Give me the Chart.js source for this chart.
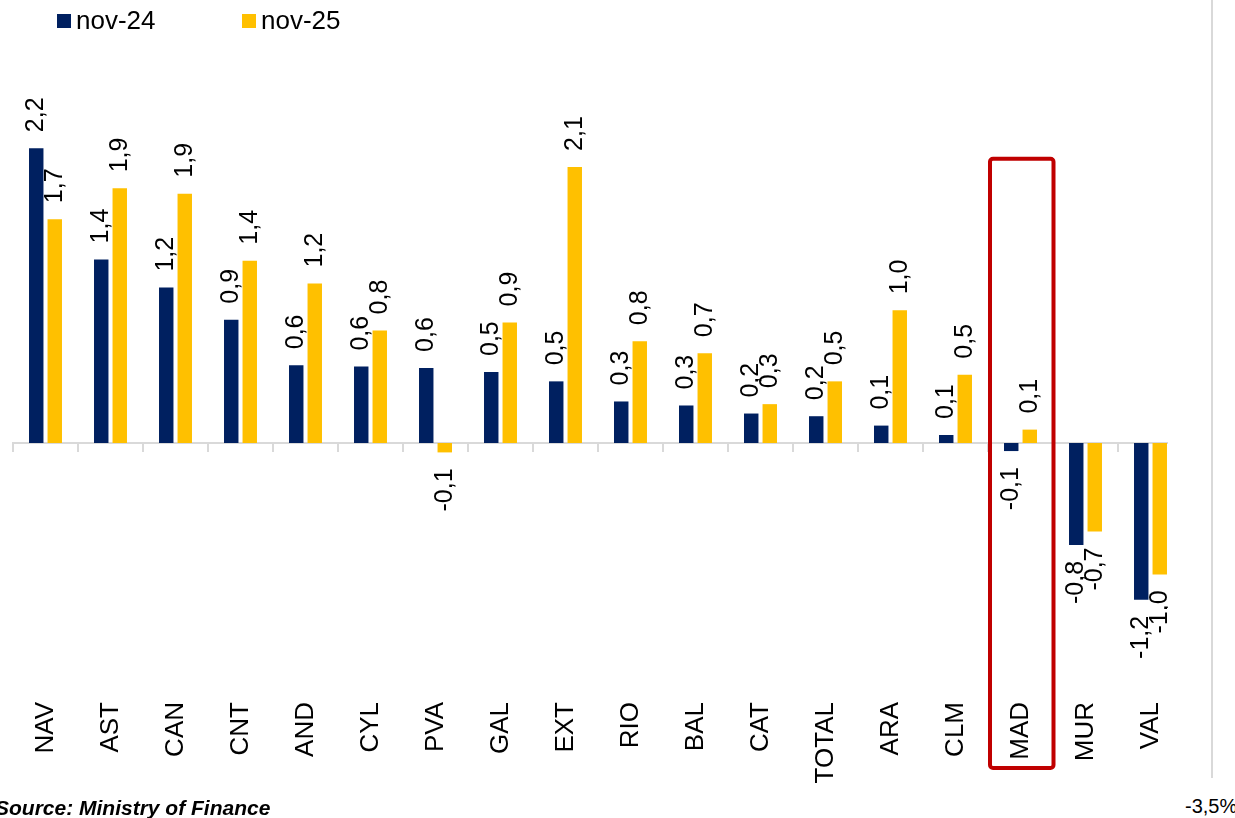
<!DOCTYPE html>
<html>
<head>
<meta charset="utf-8">
<script src="https://cdn.jsdelivr.net/npm/chart.js@4/dist/chart.umd.min.js"></script>
<style>
  body { margin: 0; background: #fff; font-family: "Liberation Sans", Arial, sans-serif; }
  #page { position: relative; width: 1235px; height: 818px; overflow: hidden; }
  #plot { position: absolute; left: 0; top: 0; width: 1168px; height: 800px; overflow: hidden; }
  #plot canvas { position: absolute; left: 0; top: 0; }
  .leg { position: absolute; top: 7px; font-size: 26px; line-height: 26px; color: #000; white-space: nowrap; }
  .leg i { position: absolute; left: 0; top: 7px; width: 14px; height: 14px; }
  .leg span { margin-left: 19px; }
  #source { position: absolute; left: -5px; top: 797px; font-size: 21px; line-height: 21px; font-weight: bold; font-style: italic; white-space: nowrap; }
  #other { position: absolute; left: 1185px; top: 796px; font-size: 20px; line-height: 20px; white-space: nowrap; }
  #edge { position: absolute; left: 1211px; top: 0; width: 2px; height: 778px; background: #d9d9d9; }
</style>
</head>
<body>
<div id="page">
  <div id="plot"><canvas id="grafik" width="1200" height="800"></canvas></div>
  <div id="legend"></div>
  <div id="edge"></div>
  <div id="source">Source: Ministry of Finance</div>
  <div id="other">-3,5%</div>
</div>
<script>
const categories = ['NAV', 'AST', 'CAN', 'CNT', 'AND', 'CYL', 'PVA', 'GAL', 'EXT', 'RIO', 'BAL', 'CAT', 'TOTAL', 'ARA', 'CLM', 'MAD', 'MUR', 'VAL'];
const nov24 = [2.2, 1.37, 1.16, 0.92, 0.58, 0.57, 0.56, 0.53, 0.46, 0.31, 0.28, 0.22, 0.2, 0.13, 0.06, -0.06, -0.76, -1.17];
const nov25 = [1.67, 1.9, 1.86, 1.36, 1.19, 0.84, -0.07, 0.9, 2.06, 0.76, 0.67, 0.29, 0.46, 0.99, 0.51, 0.1, -0.66, -0.98];
const seriesNames = ['nov-24', 'nov-25'];
const colors = ['#002060', '#ffc000'];
const highlight = 'MAD';

const font = '"Liberation Sans", Arial, sans-serif';

// rotated value labels above / below each bar
const valueLabels = {
    id: 'valueLabels',
    afterDatasetsDraw(chart) {
        const ctx = chart.ctx;
        ctx.save();
        ctx.font = '25px ' + font;
        ctx.fillStyle = '#000';
        ctx.textBaseline = 'middle';
        chart.data.datasets.forEach((ds, i) => {
            chart.getDatasetMeta(i).data.forEach((bar, j) => {
                const v = ds.data[j];
                ctx.save();
                ctx.translate(bar.x, v >= 0 ? bar.y - 16 : bar.y + 16);
                ctx.rotate(-Math.PI / 2);
                ctx.textAlign = v >= 0 ? 'left' : 'right';
                ctx.fillText(v.toFixed(1).replace('.', ','), 0, 0);
                ctx.restore();
            });
        });
        ctx.restore();
    }
};

// red frame round the highlighted region
const highlightBox = {
    id: 'highlightBox',
    afterDraw(chart) {
        const x = chart.scales.x;
        const y = chart.scales.y;
        const idx = categories.indexOf(highlight);
        const half = (x.getPixelForValue(1) - x.getPixelForValue(0)) / 2;
        const cx = x.getPixelForValue(idx);
        const top = y.getPixelForValue(2.12);
        const bottom = chart.chartArea.bottom + 77;
        const ctx = chart.ctx;
        ctx.save();
        ctx.strokeStyle = '#c00000';
        ctx.lineWidth = 4;
        ctx.beginPath();
        ctx.roundRect(cx - half + 2, top, 2 * half - 1.5, bottom - top, 3);
        ctx.stroke();
        ctx.restore();
    }
};

const data = {
    labels: categories,
    datasets: [nov24, nov25].map((vals, i) => ({
        label: seriesNames[i],
        data: vals,
        backgroundColor: colors[i],
        xAxisID: 'x',
        yAxisID: 'y',
        categoryPercentage: 0.57,
        barPercentage: 0.78
    }))
};

const config = {
    type: 'bar',
    data: data,
    options: {
        responsive: false,
        animation: false,
        layout: { padding: { left: 13, right: 17, top: 61, bottom: 9 } },
        plugins: {
            legend: { display: false },
            tooltip: { enabled: false }
        },
        scales: {
            y: {
                display: false,
                min: -1.85,
                max: 2.85
            },
            x: {
                position: { y: 0 },
                offset: true,
                grid: { offset: true, drawOnChartArea: false, color: '#d9d9d9', lineWidth: 2, tickLength: 8 },
                border: { color: '#d9d9d9', width: 2 },
                ticks: { display: false }
            },
            x2: {
                type: 'category',
                position: 'bottom',
                offset: true,
                grid: { display: false },
                border: { display: false },
                ticks: {
                    autoSkip: false,
                    minRotation: 90,
                    maxRotation: 90,
                    padding: 3,
                    color: '#000',
                    font: { family: font, size: 26 }
                },
                afterFit(scale) { scale.height = 100; }
            }
        }
    },
    plugins: [valueLabels, highlightBox]
};

const myChart = new Chart(document.getElementById('grafik'), config);

// legend in html, built from the datasets
const legendLefts = [57, 242];
const legend = document.getElementById('legend');
myChart.data.datasets.forEach((ds, i) => {
    const item = document.createElement('div');
    item.className = 'leg';
    item.style.left = legendLefts[i] + 'px';
    item.innerHTML = '<i style="background:' + ds.backgroundColor + '"></i><span>' + ds.label + '</span>';
    legend.appendChild(item);
});
</script>
</body>
</html>
